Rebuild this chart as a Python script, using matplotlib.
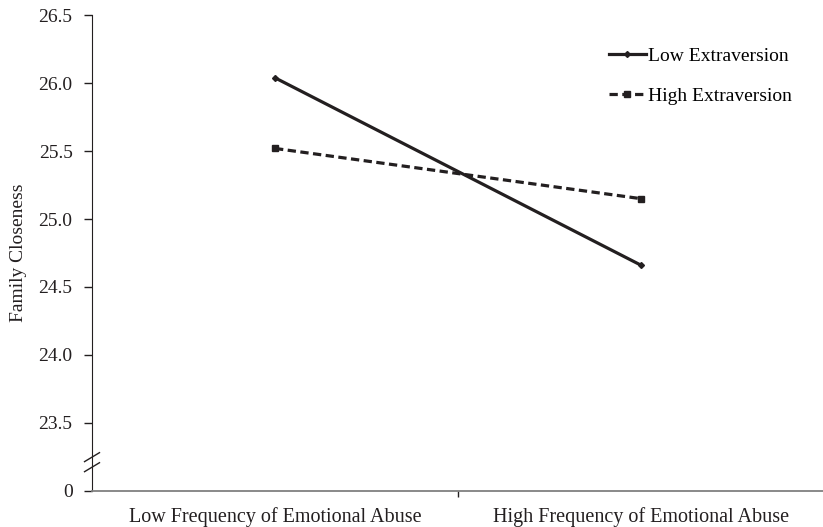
import matplotlib.pyplot as plt
import matplotlib.transforms as mtransforms

plt.rcParams['font.family'] = ['Liberation Serif', 'DejaVu Serif']

# data
groups = ["Low Frequency of Emotional Abuse", "High Frequency of Emotional Abuse"]
low_extraversion = [26.04, 24.66]
high_extraversion = [25.52, 25.15]
series_names = ["Low Extraversion", "High Extraversion"]
ytick_values = [23.0, 23.5, 24.0, 24.5, 25.0, 25.5, 26.0, 26.5]
ytick_labels = ["0", "23.5", "24.0", "24.5", "25.0", "25.5", "26.0", "26.5"]

fig = plt.figure(figsize=(8.23, 5.27), dpi=100)
ax = fig.add_axes([0.1118, 0.0689, 0.8895, 0.902])

xpos = [0.5, 1.5]
ax.plot(xpos, low_extraversion, color='#231f20', lw=2.3, marker='D',
        markersize=3, label=series_names[0])
ax.plot(xpos, high_extraversion, color='#231f20', lw=2.3, ls=(0, (2.6, 1.4)),
        marker='s', markersize=5, label=series_names[1])

ax.set_xlim(0, 2)
ax.set_ylim(23.0, 26.5)
ax.set_yticks(ytick_values, ytick_labels)
ax.set_xticks(xpos, groups)
ax.set_xticks([1], minor=True)

ax.tick_params(axis='y', direction='out', length=6, width=1, pad=8,
               labelsize=14, colors='#231f20')
ax.tick_params(axis='x', which='major', length=0, pad=11.5, labelsize=14.5,
               labelcolor='#231f20')
ax.tick_params(axis='x', which='minor', direction='out', length=4, width=1,
               color='#231f20')

for s in ['top', 'right']:
    ax.spines[s].set_visible(False)
ax.spines['left'].set_color('#231f20')
ax.spines['bottom'].set_color('#808080')
ax.spines['bottom'].set_linewidth(1.3)

ax.set_ylabel("Family Closeness", fontsize=14, color='#231f20', labelpad=8)

# axis break marks
trans = mtransforms.blended_transform_factory(ax.transAxes, ax.transData)
for yc in [23.247, 23.173]:
    ax.plot([-0.0102, 0.0102], [yc - 0.033, yc + 0.033], color='#231f20',
            lw=1, transform=trans, clip_on=False)

ax.legend(loc='upper left', bbox_to_anchor=(0.740, 0.91),
          bbox_transform=fig.transFigure, frameon=False, fontsize=14,
          handlelength=1.9, handletextpad=0.1, labelspacing=1.15,
          borderaxespad=0, borderpad=0)

fig.savefig('out.png', dpi=100)
